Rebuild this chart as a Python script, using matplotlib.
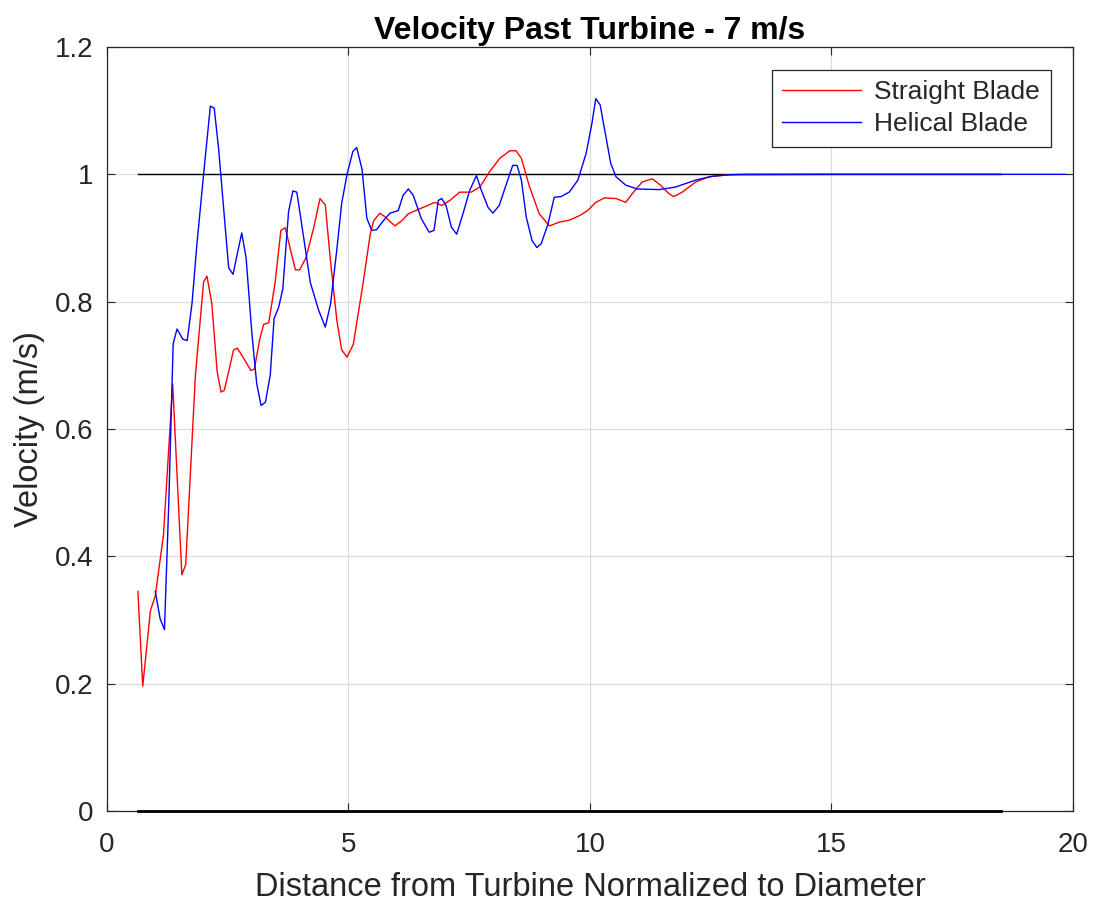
import matplotlib.pyplot as plt

# normalized distance (x/D) and velocity ratio for each blade
straight_x = [0.64, 0.74, 0.90, 1.00, 1.17, 1.36, 1.55, 1.63, 1.83, 2.00, 2.07, 2.17, 2.28, 2.36,
              2.43, 2.62, 2.70, 2.83, 2.98, 3.05, 3.16, 3.24, 3.35, 3.48, 3.60, 3.69, 3.90, 3.99,
              4.12, 4.28, 4.41, 4.52, 4.62, 4.76, 4.86, 4.97, 5.10, 5.31, 5.45, 5.52, 5.65, 5.76,
              5.96, 6.10, 6.24, 6.48, 6.79, 6.93, 7.10, 7.30, 7.54, 7.72, 7.92, 8.13, 8.34, 8.47,
              8.58, 8.75, 8.95, 9.16, 9.37, 9.57, 9.78, 9.95, 10.12, 10.30, 10.54, 10.74, 10.88,
              11.08, 11.29, 11.46, 11.63, 11.73, 11.91, 12.19, 12.46, 12.81, 13.2, 15.0, 18.5]
straight_v = [0.345, 0.196, 0.315, 0.338, 0.434, 0.671, 0.371, 0.387, 0.684, 0.831, 0.840, 0.797,
              0.691, 0.658, 0.661, 0.724, 0.727, 0.711, 0.692, 0.694, 0.740, 0.764, 0.767, 0.830,
              0.912, 0.916, 0.850, 0.850, 0.869, 0.916, 0.962, 0.952, 0.869, 0.770, 0.724, 0.713,
              0.733, 0.833, 0.906, 0.927, 0.939, 0.933, 0.919, 0.927, 0.938, 0.946, 0.956, 0.951,
              0.959, 0.972, 0.972, 0.980, 1.004, 1.025, 1.037, 1.037, 1.025, 0.980, 0.938, 0.919,
              0.925, 0.928, 0.935, 0.943, 0.956, 0.963, 0.962, 0.956, 0.970, 0.988, 0.993, 0.983,
              0.970, 0.965, 0.972, 0.988, 0.996, 0.999, 1.0, 1.0, 1.0]

helical_x = [1.00, 1.10, 1.19, 1.28, 1.37, 1.45, 1.57, 1.66, 1.76, 1.86, 2.00, 2.14, 2.22, 2.31,
             2.45, 2.52, 2.61, 2.70, 2.79, 2.88, 3.00, 3.10, 3.19, 3.28, 3.38, 3.46, 3.55, 3.64,
             3.76, 3.85, 3.93, 4.03, 4.21, 4.38, 4.52, 4.63, 4.76, 4.86, 4.97, 5.09, 5.17, 5.28,
             5.38, 5.48, 5.58, 5.72, 5.86, 6.03, 6.13, 6.24, 6.34, 6.51, 6.67, 6.77, 6.86, 6.93,
             7.02, 7.13, 7.24, 7.37, 7.51, 7.65, 7.75, 7.89, 7.99, 8.12, 8.27, 8.40, 8.49, 8.58,
             8.68, 8.80, 8.90, 8.99, 9.13, 9.26, 9.40, 9.57, 9.75, 9.92, 10.04, 10.12, 10.21,
             10.33, 10.43, 10.54, 10.74, 10.98, 11.43, 11.77, 12.19, 12.53, 12.94, 15.0, 19.85]
helical_v = [0.345, 0.302, 0.285, 0.486, 0.734, 0.757, 0.741, 0.739, 0.797, 0.889, 1.000, 1.107,
             1.104, 1.041, 0.915, 0.853, 0.843, 0.876, 0.908, 0.869, 0.750, 0.671, 0.637, 0.642,
             0.685, 0.774, 0.790, 0.820, 0.942, 0.974, 0.972, 0.922, 0.830, 0.787, 0.760, 0.797,
             0.883, 0.955, 1.000, 1.036, 1.042, 1.008, 0.931, 0.912, 0.913, 0.927, 0.939, 0.943,
             0.967, 0.977, 0.967, 0.930, 0.909, 0.912, 0.959, 0.962, 0.951, 0.917, 0.906, 0.938,
             0.975, 0.998, 0.975, 0.948, 0.939, 0.951, 0.985, 1.014, 1.014, 0.991, 0.933, 0.896,
             0.885, 0.891, 0.922, 0.964, 0.965, 0.972, 0.991, 1.033, 1.080, 1.119, 1.109, 1.059,
             1.017, 0.996, 0.983, 0.977, 0.976, 0.980, 0.991, 0.997, 0.9995, 1.0, 1.0]

# free-stream and zero reference lines
ref_x = [0.64, 18.5]

plt.rcParams['font.family'] = ['Liberation Sans', 'DejaVu Sans']
text_color = '#262626'

fig = plt.figure(figsize=(10.94, 9.02), dpi=100)
ax = fig.add_axes([0.0978, 0.1009, 0.8830, 0.8470])

ax.plot(ref_x, [1, 1], color='black', lw=1.0, zorder=2)
ax.plot(ref_x, [0, 0], color='black', lw=2.0, zorder=5, clip_on=False)
ax.plot(straight_x, straight_v, color='red', lw=1.0, label='Straight Blade', zorder=3)
ax.plot(helical_x, helical_v, color='blue', lw=1.0, label='Helical Blade', zorder=4)

ax.set_xlim(0, 20)
ax.set_ylim(0, 1.2)
ax.set_xticks([0, 5, 10, 15, 20])
ax.set_yticks([0, 0.2, 0.4, 0.6, 0.8, 1.0, 1.2])
ax.set_yticklabels(['0', '0.2', '0.4', '0.6', '0.8', '1', '1.2'])
ax.grid(True, color='#dcdcdc', lw=0.9)
ax.set_axisbelow(True)
ax.tick_params(direction='in', top=True, right=True, length=6, width=0.8,
               labelsize=20, colors=text_color)
ax.tick_params(axis='x', pad=15)
ax.tick_params(axis='y', pad=10)
for s in ax.spines.values():
    s.set_color(text_color)
    s.set_linewidth(0.9)

ax.set_title('Velocity Past Turbine - 7 m/s', fontsize=23, fontweight='bold', pad=6)
ax.set_xlabel('Distance from Turbine Normalized to Diameter', fontsize=23.5,
              color=text_color, labelpad=10)
ax.set_ylabel('Velocity (m/s)', fontsize=23.5, color=text_color, labelpad=7)

leg = ax.legend(loc='upper right', fontsize=19, fancybox=False, framealpha=1,
                edgecolor=text_color, borderpad=0.4, handlelength=3.0,
                bbox_to_anchor=(0.977, 0.970), labelspacing=0.3, handletextpad=0.5,
                borderaxespad=0)
leg.get_frame().set_linewidth(0.9)
for t in leg.get_texts():
    t.set_color(text_color)

fig.savefig('out.png', dpi=100)
